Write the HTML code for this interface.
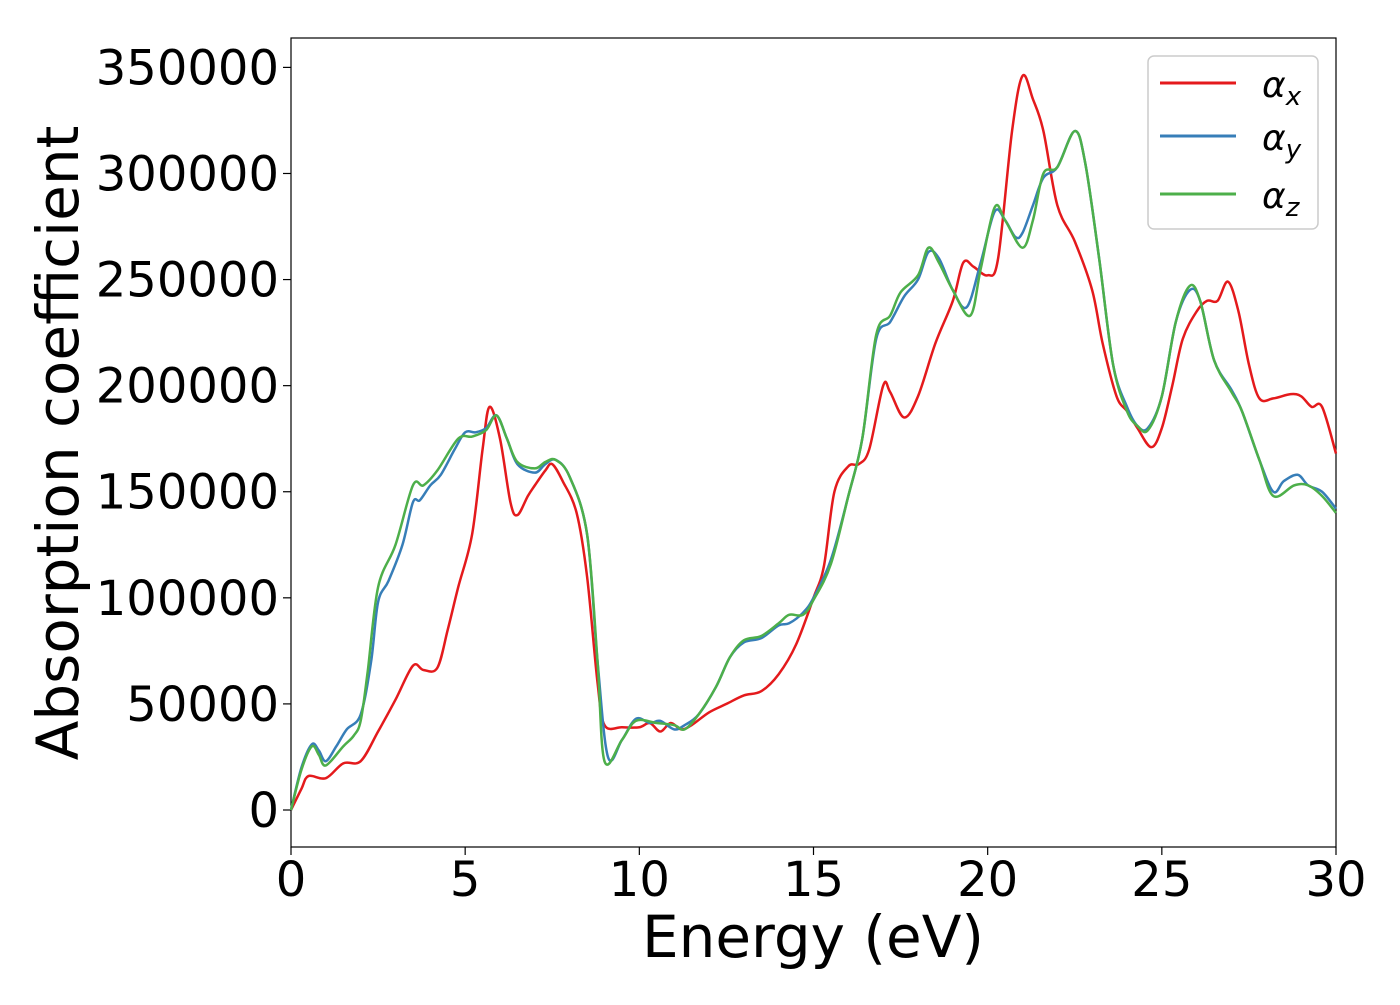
<!DOCTYPE html>
<html><head><meta charset="utf-8"><style>
body{margin:0;background:#fff;}
svg text{font-family:"DejaVu Sans","Liberation Sans",sans-serif;fill:#000;}
</style></head><body>
<svg id="chart" width="1400" height="1000" xmlns="http://www.w3.org/2000/svg">
<g id="axes"></g>
<g id="series"></g>
<g>
<rect x="1148" y="56" width="170" height="173" rx="6" fill="#fff" stroke="#ccc" stroke-width="1.5"/>
<line x1="1160" y1="83" x2="1236" y2="83" stroke="#e41a1c" stroke-width="3"/>
<line x1="1160" y1="136" x2="1236" y2="136" stroke="#377eb8" stroke-width="3"/>
<line x1="1160" y1="194" x2="1236" y2="194" stroke="#4daf4a" stroke-width="3"/>
<text x="1262" y="97" font-size="36" font-style="italic">α<tspan font-size="26" dy="8">x</tspan></text>
<text x="1262" y="150" font-size="36" font-style="italic">α<tspan font-size="26" dy="8">y</tspan></text>
<text x="1262" y="208" font-size="36" font-style="italic">α<tspan font-size="26" dy="8">z</tspan></text>
</g>
</svg>
<script>
const xTicks=[0,5,10,15,20,25,30];
const yTicks=[0,50000,100000,150000,200000,250000,300000,350000];
const redE=[0,0.3,0.5,1,1.5,2,2.5,3,3.5,3.8,4.2,4.5,4.8,5.2,5.5,5.7,6,6.3,6.5,6.8,7,7.3,7.5,7.8,8.2,8.5,8.8,9,9.5,10,10.3,10.6,10.9,11.2,11.5,12,12.5,13,13.5,14,14.5,15,15.3,15.6,16,16.3,16.6,17,17.2,17.6,18,18.5,19,19.3,19.6,20,20.3,20.7,21,21.3,21.6,22,22.5,23,23.3,23.7,24,24.3,24.7,25,25.3,25.6,26,26.3,26.6,26.9,27.2,27.5,27.8,28.2,28.7,29,29.3,29.6,30];
const redV=[0,10000,16000,15000,22000,23000,37000,52000,68000,66000,67000,85000,105000,130000,170000,190000,175000,145000,139000,148000,153000,160000,163000,155000,140000,110000,60000,40000,39000,39000,41000,37000,41000,38000,40000,46000,50000,54000,56000,64000,78000,100000,115000,150000,162000,163000,170000,200000,197000,185000,195000,220000,240000,258000,256000,252000,260000,320000,346000,335000,320000,285000,268000,245000,220000,195000,188000,180000,171000,180000,200000,222000,235000,240000,240000,249000,235000,210000,194000,194000,196000,195000,190000,190000,168000];
const blueE=[0,0.3,0.6,0.8,1,1.3,1.6,2,2.3,2.5,2.8,3.2,3.5,3.7,4,4.3,4.7,5,5.3,5.6,5.9,6.2,6.5,7,7.3,7.6,8,8.5,8.8,9.1,9.5,9.9,10.3,10.6,11,11.3,11.7,12.2,12.6,13,13.5,14,14.3,14.7,15,15.5,16,16.4,16.8,17.2,17.6,18,18.3,18.6,19,19.4,19.8,20.2,20.5,20.8,21,21.3,21.6,22,22.5,22.8,23.2,23.6,24,24.3,24.6,25,25.4,25.8,26.1,26.5,27,27.3,27.8,28.2,28.5,28.9,29.2,29.6,30];
const blueV=[0,20000,31000,28000,23000,30000,38000,45000,70000,98000,108000,125000,145000,146000,153000,158000,170000,178000,178000,180000,186000,175000,163000,159000,163000,165000,157000,130000,70000,25000,33000,43000,41000,42000,38000,40000,45000,58000,72000,79000,81000,87000,88000,93000,100000,118000,148000,175000,222000,230000,242000,250000,263000,260000,245000,237000,258000,282000,278000,270000,272000,285000,298000,303000,320000,305000,260000,210000,190000,181000,180000,195000,230000,245000,240000,212000,198000,188000,165000,150000,155000,158000,153000,150000,142000];
const greenE=[0,0.3,0.6,0.8,1,1.5,1.8,2,2.2,2.5,3,3.5,3.8,4.2,4.8,5.2,5.6,5.9,6.2,6.5,7,7.3,7.6,8,8.5,8.8,9,9.5,9.9,10.5,11,11.3,11.7,12.2,12.6,13,13.5,14,14.3,14.7,15,15.5,16,16.4,16.8,17.2,17.5,18,18.3,18.6,19,19.5,19.8,20.2,20.5,21,21.3,21.6,22,22.5,22.8,23.2,23.6,24,24.3,24.6,25,25.4,25.8,26.1,26.5,27,27.3,27.8,28.2,28.8,29.2,29.6,30];
const greenV=[0,19000,30000,26000,21000,30000,35000,42000,65000,105000,125000,153000,153000,160000,175000,176000,179000,186000,175000,164000,161000,164000,165000,157000,130000,70000,23000,33000,42000,41000,40000,38000,45000,58000,72000,80000,82000,88000,92000,92000,99000,116000,148000,175000,224000,233000,244000,252000,265000,258000,245000,233000,255000,284000,278000,265000,278000,300000,303000,320000,305000,260000,210000,188000,181000,179000,195000,230000,247000,240000,212000,197000,188000,165000,148000,153000,153000,148000,140000];
const X0=291,X1=1336,Y0=810,YT=38,YB=847;
const sx=v=>X0+(X1-X0)*v/30;
const sy=v=>Y0-(Y0-67.4)*v/350000;
const NS="http://www.w3.org/2000/svg";
function mk(t,a,p){const e=document.createElementNS(NS,t);for(const k in a)e.setAttribute(k,a[k]);p.appendChild(e);return e;}
const ax=document.getElementById('axes');
const frame=mk('rect',{x:X0,y:YT,width:X1-X0,height:YB-YT,fill:'none',stroke:'#000','stroke-width':1.2},ax);


xTicks.forEach(t=>{
 const l=mk('line',{x1:sx(t),x2:sx(t),y1:YB,y2:YB+8,stroke:'#000','stroke-width':1.2},ax);
 
 
 const tx=mk('text',{x:sx(t),y:YB+49,'text-anchor':'middle','font-size':48},ax);tx.textContent=t;
 
 
});
yTicks.forEach(t=>{
 const l=mk('line',{x1:X0-8,x2:X0,y1:sy(t),y2:sy(t),stroke:'#000','stroke-width':1.2},ax);
 
 
 const tx=mk('text',{x:X0-12,y:sy(t)+17,'text-anchor':'end','font-size':48},ax);tx.textContent=t;
 
 
});
const xt=mk('text',{x:813,y:957,'text-anchor':'middle','font-size':58},ax);xt.textContent='Energy (eV)';


const yt=mk('text',{x:0,y:0,'text-anchor':'middle','font-size':58,transform:'translate(78,443) rotate(-90)'},ax);yt.textContent='Absorption coefficient';


function pathD(E,V){
 const p=E.map((e,i)=>[sx(e),sy(V[i])]);
 let d='M'+p[0][0]+','+p[0][1];
 for(let i=0;i<p.length-1;i++){
  const a=p[Math.max(0,i-1)],b=p[i],c=p[i+1],n=p[Math.min(p.length-1,i+2)];
  const c1=[b[0]+(c[0]-a[0])/6,b[1]+(c[1]-a[1])/6],c2=[c[0]-(n[0]-b[0])/6,c[1]-(n[1]-b[1])/6];
  d+='C'+c1.join(',')+' '+c2.join(',')+' '+c.join(',');
 }
 return d;
}
const sg=document.getElementById('series');
const r=mk('path',{d:pathD(redE,redV),fill:'none',stroke:'#e41a1c','stroke-width':2.5},sg);


const b=mk('path',{d:pathD(blueE,blueV),fill:'none',stroke:'#377eb8','stroke-width':2.5},sg);


const g=mk('path',{d:pathD(greenE,greenV),fill:'none',stroke:'#4daf4a','stroke-width':2.5},sg);


</script>
</body></html>
